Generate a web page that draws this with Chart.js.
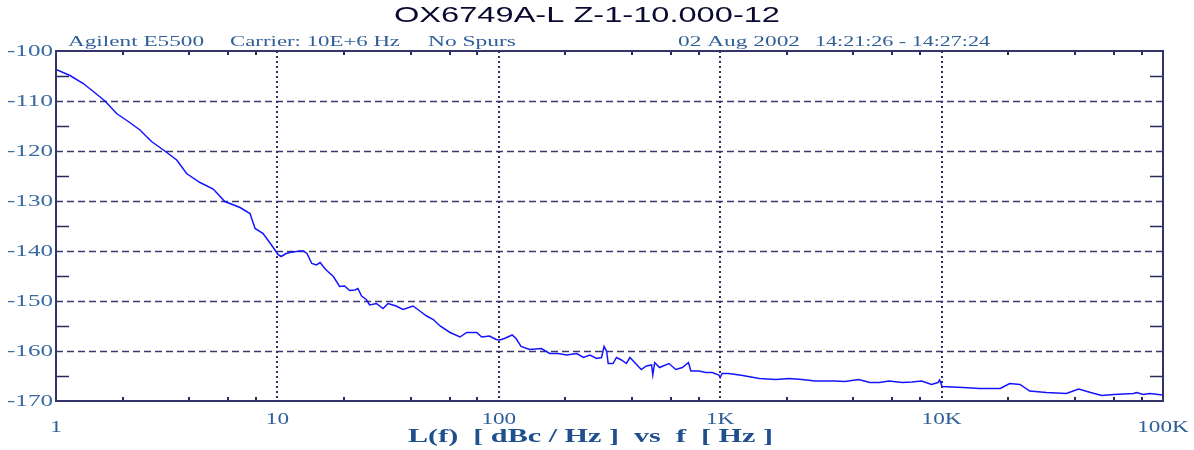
<!DOCTYPE html>
<html>
<head>
<meta charset="utf-8">
<script src="https://cdn.jsdelivr.net/npm/chart.js@4/dist/chart.umd.min.js"></script>
<style>
html,body{margin:0;padding:0;background:#fff;}
canvas{display:block;}
</style>
</head>
<body>
<canvas id="c" width="1194" height="450"></canvas>
<script>
// ---- data ----
const freqHz = [1,1.157,1.328,1.474,1.664,1.878,2.12,2.395,2.70,3.10,3.51,3.89,4.47,5.13,5.79,6.78,7.52,7.93,8.62,9.40,10.06,10.4,10.95,11.4,12.6,13.1,13.6,14.3,15.0,15.6,16.1,16.7,17.9,19.1,20.1,21.2,22.4,23.1,24.0,25.2,26.1,28.0,30.0,31.6,34.4,36.9,41.0,44.0,47.2,50.6,54.3,60.2,66.8,71.6,79.5,83.7,90.7,97.3,101,106,114.9,119.7,126,137.7,155.8,169.9,185.4,202.4,224.9,241,258,276.5,291,299,307,312,328,340,358,377,391,411,440,464,490,496,506,532,587,630,675,719,737,803,860,921,986,1000,1020,1093,1264,1502,1785,2045,2342,2684,3296,3656,4227,4741,5237,5795,6634,7344,8130,9002,9632,9800,10050,12500,14800,18400,20300,22600,25000,29700,36600,41600,47100,52900,59800,73500,76000,81400,87100,100000];
const noiseDbcHz = [-103.7,-104.9,-106.5,-108.1,-110,-112.5,-114.1,-115.8,-118.1,-120,-121.8,-124.5,-126.3,-127.6,-130.1,-131.3,-132.5,-135.5,-136.5,-138.8,-140.7,-141.1,-140.5,-140.3,-140,-140,-140.5,-142.5,-142.8,-142.3,-143.1,-143.9,-145.1,-147.1,-147,-147.9,-147.8,-147.5,-149,-149.7,-150.8,-150.5,-151.5,-150.5,-151,-151.7,-151,-152,-153,-153.7,-155,-156.3,-157.2,-156.3,-156.3,-157.2,-157,-157.7,-157.8,-157.5,-156.8,-157.5,-159.1,-159.7,-159.5,-160.5,-160.5,-160.8,-160.5,-161.3,-160.8,-161.5,-161.3,-159.1,-160.1,-162.5,-162.5,-161.3,-161.8,-162.5,-161.3,-162.3,-163.7,-163,-162.8,-164.8,-162.3,-163.3,-162.5,-163.7,-163.3,-162.3,-164,-164,-164.3,-164.3,-164.8,-165.3,-164.5,-164.5,-164.9,-165.5,-165.7,-165.5,-165.7,-166,-166,-166.1,-165.7,-166.3,-166.3,-166,-166.3,-166.2,-166,-166.7,-166.3,-165.8,-167.1,-167.3,-167.5,-167.5,-166.5,-166.7,-168,-168.3,-168.5,-167.6,-168.3,-168.9,-168.7,-168.5,-168.3,-168.7,-168.5,-168.8];
const yTickValues = [-100,-110,-120,-130,-140,-150,-160,-170];
const yTickLabels = ['-100','-110','-120','-130','-140','-150','-160','-170'];
const xDecades = [1,10,100,1000,10000,100000];
const xTickLabels = ['1','10','100','1K','10K','100K'];
const titleText = 'OX6749A-L Z-1-10.000-12';
const headerLeft = ['Agilent E5500','Carrier: 10E+6 Hz','No Spurs'];
const headerRight = ['02 Aug 2002','14:21:26 - 14:27:24'];
const xAxisTitle = 'L(f)  [ dBc / Hz ]  vs  f  [ Hz ]';

const points = freqHz.map((f,i)=>({x:f,y:noiseDbcHz[i]}));

function fitText(ctx, str, left, right, cy, font, color){
  ctx.save();
  ctx.font = font; ctx.fillStyle = color; ctx.textBaseline = 'middle'; ctx.textAlign='left';
  const w = ctx.measureText(str).width;
  const sx = (right-left)/w;
  ctx.translate(left, cy); ctx.scale(sx,1); ctx.fillText(str,0,0);
  ctx.restore();
}
function sText(ctx, str, x, cy, font, color, sx, align){
  ctx.save();
  ctx.font = font; ctx.fillStyle = color; ctx.textBaseline = 'middle'; ctx.textAlign='left';
  const w = ctx.measureText(str).width*sx;
  const left = align==='center' ? x-w/2 : (align==='right' ? x-w : x);
  ctx.translate(left, cy); ctx.scale(sx,1); ctx.fillText(str,0,0);
  ctx.restore();
}

const decor = {
  id:'decor',
  beforeDatasetsDraw(chart){
    const ctx = chart.ctx, a = chart.chartArea, xs = chart.scales.x, ys = chart.scales.y;
    ctx.save();
    // horizontal dashed grid
    ctx.strokeStyle = '#3a3a6e'; ctx.lineWidth = 1.5; ctx.setLineDash([7,4]);
    yTickValues.forEach(v=>{
      if (v===-100 || v===-170) return;
      const y = Math.round(ys.getPixelForValue(v))+0.5;
      ctx.beginPath(); ctx.moveTo(a.left,y); ctx.lineTo(a.right,y); ctx.stroke();
    });
    // vertical dotted decade lines
    ctx.strokeStyle = '#2e2e66'; ctx.lineWidth = 2; ctx.setLineDash([2,3]);
    xDecades.forEach(v=>{
      if (v===1 || v===100000) return;
      const x = Math.round(xs.getPixelForValue(v));
      ctx.beginPath(); ctx.moveTo(x,a.top); ctx.lineTo(x,a.bottom); ctx.stroke();
    });
    ctx.setLineDash([]);
    // minor y ticks (left and right)
    ctx.strokeStyle = '#2a2a5e'; ctx.lineWidth = 1.5;
    for (let v=-105; v>-170; v-=10){
      const y = Math.round(ys.getPixelForValue(v))+0.5;
      ctx.beginPath(); ctx.moveTo(a.left,y); ctx.lineTo(a.left+13,y); ctx.stroke();
      ctx.beginPath(); ctx.moveTo(a.right,y); ctx.lineTo(a.right-13,y); ctx.stroke();
    }
    // minor x ticks (top and bottom)
    ctx.lineWidth = 2;
    xDecades.slice(0,-1).forEach(d=>{
      [2,4,6,8].forEach(m=>{
        const x = Math.round(xs.getPixelForValue(d*m));
        ctx.beginPath(); ctx.moveTo(x,a.top); ctx.lineTo(x,a.top+4); ctx.stroke();
        ctx.beginPath(); ctx.moveTo(x,a.bottom); ctx.lineTo(x,a.bottom-4); ctx.stroke();
      });
    });
    ctx.restore();
  },
  afterDraw(chart){
    const ctx = chart.ctx, a = chart.chartArea, xs = chart.scales.x, ys = chart.scales.y;
    ctx.save();
    // frame
    ctx.strokeStyle = '#33336a'; ctx.lineWidth = 2;
    ctx.strokeRect(a.left, a.top, a.right-a.left, a.bottom-a.top);
    ctx.restore();
    // y labels
    yTickValues.forEach((v,i)=>{
      const y = ys.getPixelForValue(v);
      fitText(ctx, yTickLabels[i], 7, 53, y+1, '16px "Liberation Serif"', '#3b6aa0');
    });
    // x labels
    xDecades.forEach((v,i)=>{
      const x = xs.getPixelForValue(v);
      let cy = 420;
      if (i===0 || i===xDecades.length-1) cy = 428;
      sText(ctx, xTickLabels[i], x, cy, '16px "Liberation Serif"', '#2f5f98', 1.45, 'center');
    });
    // title
    fitText(ctx, titleText, 394, 780, 16, '22px "Liberation Sans"', '#0a0a30');
    // header
    fitText(ctx, headerLeft[0], 68, 204, 42, '15px "Liberation Serif"', '#2f5f98');
    fitText(ctx, headerLeft[1], 230, 400, 42, '15px "Liberation Serif"', '#2f5f98');
    fitText(ctx, headerLeft[2], 428, 516, 42, '15px "Liberation Serif"', '#2f5f98');
    fitText(ctx, headerRight[0], 678, 800, 42, '15px "Liberation Serif"', '#2f5f98');
    fitText(ctx, headerRight[1], 815, 990, 42, '15px "Liberation Serif"', '#2f5f98');
    // x axis title
    fitText(ctx, xAxisTitle, 408, 773, 437, 'bold 18px "Liberation Serif"', '#1f4f8f');
  }
};

new Chart(document.getElementById('c'), {
  type:'line',
  data:{ datasets:[{
    data: points,
    borderColor:'#1414ff',
    borderWidth:1.5,
    pointRadius:0,
    tension:0,
    fill:false
  }]},
  options:{
    responsive:false,
    devicePixelRatio:1,
    animation:false,
    parsing:true,
    layout:{padding:{left:56,right:31,top:51,bottom:49}},
    plugins:{legend:{display:false},tooltip:{enabled:false},title:{display:false}},
    scales:{
      x:{type:'logarithmic',min:1,max:100000,display:false},
      y:{type:'linear',min:-170,max:-100,display:false}
    }
  },
  plugins:[decor]
});
</script>
</body>
</html>
